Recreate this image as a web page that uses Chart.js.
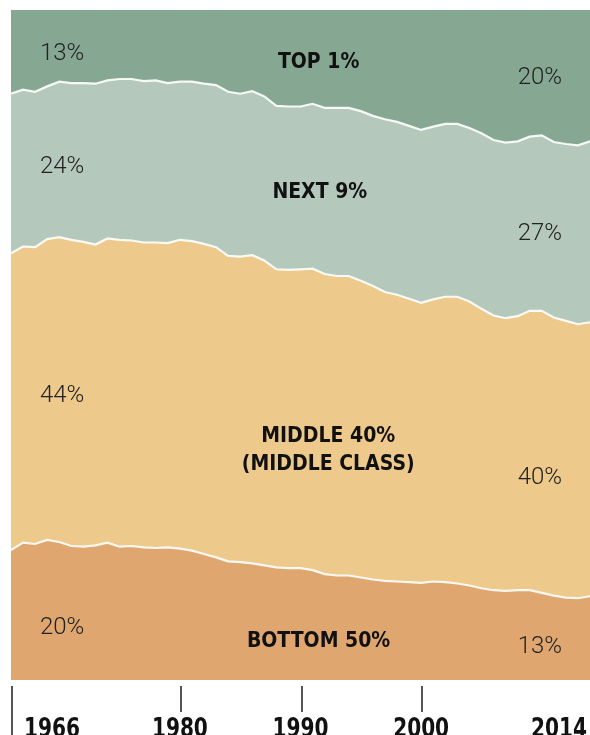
<!DOCTYPE html>
<html>
<head>
<meta charset="utf-8">
<script src="https://cdn.jsdelivr.net/npm/chart.js@4"></script>
<style>
  html, body { margin: 0; padding: 0; background: #ffffff; }
  #container { width: 590px; height: 735px; position: relative; }
</style>
</head>
<body>
<div id="container"><canvas id="incomeChart"></canvas></div>
<script>
// share of national income by group
const years = [1966, 1967, 1968, 1969, 1970, 1971, 1972, 1973, 1974, 1975,
    1976, 1977, 1978, 1979, 1980, 1981, 1982, 1983, 1984, 1985,
    1986, 1987, 1988, 1989, 1990, 1991, 1992, 1993, 1994, 1995,
    1996, 1997, 1998, 1999, 2000, 2001, 2002, 2003, 2004, 2005,
    2006, 2007, 2008, 2009, 2010, 2011, 2012, 2013, 2014];

const bottom50 = [19.4, 20.5, 20.3, 20.9, 20.6, 20.0, 19.9, 20.1, 20.5, 19.9,
    20.0, 19.8, 19.7, 19.8, 19.6, 19.3, 18.8, 18.3, 17.7, 17.6,
    17.4, 17.1, 16.8, 16.7, 16.7, 16.4, 15.8, 15.6, 15.6, 15.3,
    15.0, 14.8, 14.7, 14.6, 14.5, 14.7, 14.6, 14.4, 14.1, 13.7,
    13.4, 13.3, 13.4, 13.4, 13.0, 12.6, 12.3, 12.2, 12.5];

const middle40 = [44.3, 44.2, 44.3, 44.9, 45.5, 45.7, 45.5, 44.9, 45.4, 45.8,
    45.6, 45.5, 45.6, 45.4, 46.1, 46.2, 46.3, 46.3, 45.6, 45.6,
    46.0, 45.5, 44.5, 44.5, 44.6, 45.0, 44.8, 44.7, 44.7, 44.3,
    43.8, 43.1, 42.8, 42.3, 41.8, 42.1, 42.6, 42.8, 42.4, 41.7,
    41.0, 40.7, 40.9, 41.7, 42.1, 41.5, 41.3, 40.9, 40.9];

const next9 = [23.8, 23.4, 23.2, 22.8, 23.2, 23.4, 23.7, 24.0, 23.6, 24.0,
    24.1, 24.1, 24.2, 23.9, 23.6, 23.8, 23.9, 24.2, 24.5, 24.3,
    24.5, 24.5, 24.4, 24.4, 24.3, 24.6, 24.8, 25.1, 25.1, 25.3,
    25.4, 25.8, 25.8, 25.8, 25.8, 25.8, 25.8, 25.8, 25.9, 26.2,
    26.2, 26.2, 26.1, 26.0, 26.2, 26.2, 26.4, 26.7, 27.0];

const top1 = [12.5, 12.0, 12.2, 11.4, 10.7, 10.9, 10.9, 10.9, 10.4, 10.3,
    10.3, 10.55, 10.45, 10.95, 10.7, 10.8, 11.0, 11.3, 12.1, 12.4,
    12.1, 12.9, 14.3, 14.4, 14.4, 14.0, 14.6, 14.6, 14.6, 15.1,
    15.8, 16.3, 16.7, 17.3, 18.0, 17.5, 16.9, 16.9, 17.5, 18.4,
    19.4, 19.8, 19.5, 18.9, 19.0, 19.6, 20.1, 20.2, 19.6];

const tickYears = [1966, 1980, 1990, 2000];
const tickLabels = ['1966', '1980', '1990', '2000', '2014'];

// start / end values printed on each band: [text, year, value]
const valueNotes = [
    ['13%', 1968.4, 93.4], ['24%', 1968.4, 76.6], ['44%', 1968.4, 42.4], ['20%', 1968.4, 7.8],
    ['20%', 2008, 89.8], ['27%', 2008, 66.5], ['40%', 2008, 30.1], ['13%', 2008, 5.0]
];
const groupNotes = [
    ['TOP 1%', 1991.5, 92.2], ['NEXT 9%', 1991.6, 72.7],
    ['MIDDLE 40%', 1992.3, 36.4], ['(MIDDLE CLASS)', 1992.3, 32.2],
    ['BOTTOM 50%', 1991.5, 5.8]
];

const topColor = '#86a893';

function pts(arr) {
    return years.map((yr, i) => ({ x: yr, y: arr[i] }));
}

// fill the plot with the top band colour so rounding never leaves a gap at 100%
const bandBackground = {
    id: 'bandBackground',
    beforeDraw(chart) {
        const a = chart.chartArea;
        chart.ctx.save();
        chart.ctx.fillStyle = topColor;
        chart.ctx.fillRect(a.left, a.top, a.right - a.left, a.bottom - a.top);
        chart.ctx.restore();
    }
};

// axis ticks, year labels and text on the bands
const labelPlugin = {
    id: 'labelPlugin',
    afterDraw(chart) {
        const ctx = chart.ctx;
        const xs = chart.scales.x;
        const ys = chart.scales.y;
        const area = chart.chartArea;

        ctx.save();
        ctx.strokeStyle = '#555555';
        ctx.lineWidth = 2;
        tickYears.forEach((yr, i) => {
            const px = Math.round(xs.getPixelForValue(yr)) + 1;
            ctx.beginPath();
            ctx.moveTo(px, area.bottom + 6);
            ctx.lineTo(px, i == 0 ? chart.height : area.bottom + 32);
            ctx.stroke();
        });

        // year labels: condensed bold, squeezed a little sideways
        ctx.fillStyle = '#111111';
        ctx.font = 'bold 26px "DejaVu Sans Condensed", sans-serif';
        ctx.textBaseline = 'alphabetic';
        const sx = 0.86;
        tickLabels.forEach((t, i) => {
            let px, align;
            if (i == 0) {
                align = 'left';
                px = xs.getPixelForValue(years[0]) + 13;
            } else if (i == tickLabels.length - 1) {
                align = 'right';
                px = area.right - 3;
            } else {
                align = 'center';
                px = xs.getPixelForValue(tickYears[i]);
            }
            ctx.save();
            ctx.translate(px, chart.height + 2);
            ctx.scale(sx, 1);
            ctx.textAlign = align;
            ctx.fillText(t, 0, 0);
            ctx.restore();
        });

        ctx.textBaseline = 'middle';
        ctx.textAlign = 'left';
        ctx.fillStyle = '#222222';
        ctx.font = '300 24px Roboto, sans-serif';
        valueNotes.forEach(n => {
            ctx.fillText(n[0], xs.getPixelForValue(n[1]), ys.getPixelForValue(n[2]));
        });

        ctx.textAlign = 'center';
        ctx.fillStyle = '#111111';
        ctx.font = 'bold 21px "DejaVu Sans Condensed", sans-serif';
        groupNotes.forEach(n => {
            ctx.fillText(n[0], xs.getPixelForValue(n[1]), ys.getPixelForValue(n[2]));
        });
        ctx.restore();
    }
};

const ctx = document.getElementById('incomeChart').getContext('2d');
const incomeChart = new Chart(ctx, {
    type: 'line',
    data: {
        datasets: [
            { label: 'Bottom 50%', data: pts(bottom50), backgroundColor: '#dfa76f', fill: 'origin' },
            { label: 'Middle 40%', data: pts(middle40), backgroundColor: '#edc98b', fill: '-1' },
            { label: 'Next 9%', data: pts(next9), backgroundColor: '#b4c9bb', fill: '-1' },
            { label: 'Top 1%', data: pts(top1), backgroundColor: topColor, fill: '-1', borderWidth: 0 }
        ]
    },
    options: {
        responsive: true,
        maintainAspectRatio: false,
        animation: false,
        layout: { padding: { left: 11, top: 10, right: 0, bottom: 55 } },
        elements: {
            line: { borderColor: 'rgba(255,255,255,0.9)', borderWidth: 2.2, tension: 0 },
            point: { radius: 0 }
        },
        plugins: {
            legend: { display: false },
            tooltip: { enabled: false },
            filler: { drawTime: 'beforeDatasetsDraw' }
        },
        scales: {
            x: { type: 'linear', min: 1966, max: 2014, display: false },
            y: { stacked: true, min: 0, max: 100, display: false }
        }
    },
    plugins: [bandBackground, labelPlugin]
});
</script>
</body>
</html>
